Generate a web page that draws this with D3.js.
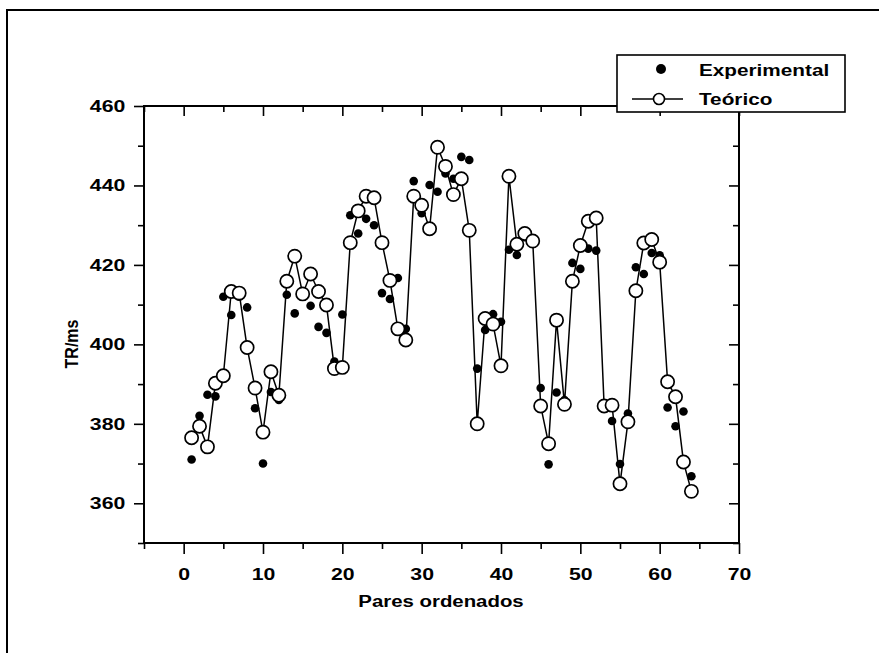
<!DOCTYPE html>
<html><head><meta charset="utf-8">
<script src="https://cdn.jsdelivr.net/npm/d3@7"></script>
<style>
body{margin:0;background:#fff;}
svg text{font-family:"Liberation Sans",Arial,sans-serif;font-weight:bold;fill:#000;}
</style></head>
<body>
<svg id="c" width="879" height="653"></svg>
<script>
// Data
const experimental = [371,382,387.3,386.9,412,407.4,412,409.3,383.9,370,388,386,412.5,407.8,412,409.7,404.4,402.9,395.7,407.5,
  432.5,427.9,431.6,430,412.9,411.4,416.7,403.9,441.1,433,440.1,438.4,443,441.7,447.2,446.4,393.9,403.6,407.6,405.7,
  423.8,422.5,427,426,389,369.8,387.9,386,420.5,419,424.1,423.6,384,380.7,369.9,382.6,419.4,417.7,423,422.4,
  384.1,379.4,383.1,366.8];
const teorico = [376.5,379.4,374.2,390.2,392.1,413.3,412.9,399.2,389,377.9,393.1,387.2,415.9,422.2,412.7,417.7,413.3,409.9,393.9,394.2,
  425.6,433.6,437.3,436.9,425.6,416.1,403.9,401.1,437.3,435,429.1,449.6,444.8,437.7,441.7,428.7,380,406.5,405.1,394.6,
  442.3,425.2,427.9,426,384.5,375,406.1,384.9,415.9,424.9,431,431.8,384.5,384.7,364.9,380.5,413.5,425.5,426.4,420.7,
  390.6,386.8,370.4,363];
const xTicks = [0,10,20,30,40,50,60,70];
const xMinor = [-5,5,15,25,35,45,55,65];
const yTicks = [360,380,400,420,440,460];
const yMinor = [350,370,390,410,430,450];
const xLabel = "Pares ordenados";
const yLabel = "TR/ms";
const legendLabels = ["Experimental","Teórico"];

const svg = d3.select("#c");
const L=144, R=739, T=106, B=543;
const x = d3.scaleLinear().domain([-5,70]).range([L,R]);
const y = d3.scaleLinear().domain([350,460]).range([B,T]);
const SX = 1.25;

// outer frame
svg.append("path").attr("d","M7,660 L7,10 L885,10").attr("fill","none").attr("stroke","#000").attr("stroke-width",2);

function styleAxis(g){
  g.select(".domain").remove();
  g.selectAll("line").attr("stroke","#000").attr("stroke-width",1.6);
  g.selectAll("text").attr("font-size","17px").attr("font-weight","bold")
    .attr("font-family","'Liberation Sans',Arial,sans-serif");
}
// bottom
svg.append("g").attr("transform",`translate(0,${B})`)
  .call(d3.axisBottom(x).tickValues(xTicks).tickSize(11).tickPadding(14).tickFormat(d3.format("d")))
  .call(styleAxis)
  .call(g=>g.selectAll("text").attr("transform",`scale(${SX},1)`));
svg.append("g").attr("transform",`translate(0,${B})`)
  .call(d3.axisBottom(x).tickValues(xMinor).tickSize(6).tickFormat("")).call(styleAxis);
// top (inward)
svg.append("g").attr("transform",`translate(0,${T})`)
  .call(d3.axisBottom(x).tickValues(xTicks).tickSize(10).tickFormat("")).call(styleAxis);
svg.append("g").attr("transform",`translate(0,${T})`)
  .call(d3.axisBottom(x).tickValues(xMinor).tickSize(6).tickFormat("")).call(styleAxis);
// left
svg.append("g").attr("transform",`translate(${L},0)`)
  .call(d3.axisLeft(y).tickValues(yTicks).tickSize(10).tickPadding(5)).call(styleAxis)
  .call(g=>g.selectAll("text").attr("transform",`scale(${SX},1)`));
svg.append("g").attr("transform",`translate(${L},0)`)
  .call(d3.axisLeft(y).tickValues(yMinor).tickSize(6).tickFormat("")).call(styleAxis);
// right (inward)
svg.append("g").attr("transform",`translate(${R},0)`)
  .call(d3.axisLeft(y).tickValues(yTicks).tickSize(-10).tickFormat("")).call(g=>{styleAxis(g);g.selectAll("line").attr("x2",-10);});
svg.append("g").attr("transform",`translate(${R},0)`)
  .call(d3.axisLeft(y).tickValues(yMinor).tickSize(-6).tickFormat("")).call(g=>{styleAxis(g);g.selectAll("line").attr("x2",-6);});

// plot frame
svg.append("rect").attr("x",L).attr("y",T).attr("width",R-L).attr("height",B-T)
  .attr("fill","none").attr("stroke","#000").attr("stroke-width",2);

// axis titles
svg.append("text").attr("transform",`translate(441,607) scale(1.2,1)`).attr("text-anchor","middle")
  .attr("font-size","17px").text(xLabel);
svg.append("text").attr("transform",`translate(78,344) rotate(-90) scale(1,1.2)`).attr("text-anchor","middle")
  .attr("font-size","16px").text(yLabel);

const idx = experimental.map((d,i)=>i+1);

// Teórico line
svg.append("path").datum(teorico)
  .attr("d", d3.line().x((d,i)=>x(idx[i])).y(d=>y(d)))
  .attr("fill","none").attr("stroke","#000").attr("stroke-width",1.5);

// Experimental dots
svg.append("g").selectAll("circle").data(experimental).join("circle")
  .attr("cx",(d,i)=>x(idx[i])).attr("cy",d=>y(d)).attr("r",4.3).attr("fill","#000");

// Teórico circles
svg.append("g").selectAll("circle").data(teorico).join("circle")
  .attr("cx",(d,i)=>x(idx[i])).attr("cy",d=>y(d)).attr("r",6.6)
  .attr("fill","#fff").attr("stroke","#000").attr("stroke-width",1.7);

// legend
const lg = svg.append("g");
lg.append("rect").attr("x",617).attr("y",55).attr("width",228).attr("height",57)
  .attr("fill","#fff").attr("stroke","#000").attr("stroke-width",1.6);
lg.append("circle").attr("cx",661).attr("cy",69).attr("r",5).attr("fill","#000");
lg.append("line").attr("x1",632).attr("x2",683).attr("y1",99).attr("y2",99).attr("stroke","#000").attr("stroke-width",1.5);
lg.append("circle").attr("cx",659).attr("cy",99).attr("r",5.5).attr("fill","#fff").attr("stroke","#000").attr("stroke-width",1.6);
lg.append("text").attr("transform","translate(699,76) scale(1.22,1)").attr("font-size","17px").text(legendLabels[0]);
lg.append("text").attr("transform","translate(699,105) scale(1.22,1)").attr("font-size","17px").text(legendLabels[1]);
</script>
</body></html>
